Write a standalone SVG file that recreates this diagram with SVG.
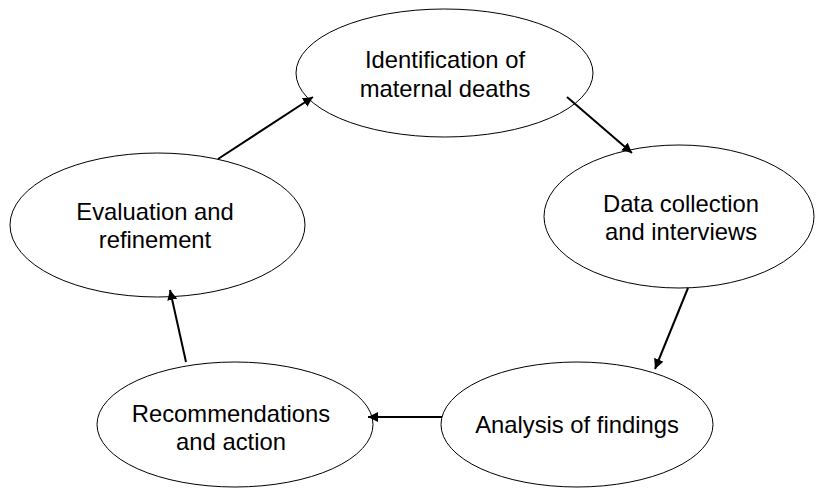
<svg xmlns="http://www.w3.org/2000/svg" width="816" height="489" viewBox="0 0 816 489">
<defs>
<style>
.node ellipse{fill:#fff;stroke:#000;stroke-width:1}
.node text{font-family:"Liberation Sans",Arial,sans-serif;font-size:23.8px;fill:#000;text-anchor:middle}
.conn line{stroke:#000;stroke-width:2;fill:none}
</style>
<marker id="ah" viewBox="0 0 10 10" refX="10" refY="5" markerWidth="5" markerHeight="5" orient="auto" markerUnits="strokeWidth">
<path d="M0,0 L10,5 L0,10 z" fill="#000"/>
</marker>
</defs>
<rect width="816" height="489" fill="#fff"/>
<g id="n-identification" class="node">
<ellipse cx="444.5" cy="73" rx="148.5" ry="64"/>
<text x="445" y="68">Identification of</text>
<text x="445" y="97">maternal deaths</text>
</g>
<g id="n-data" class="node">
<ellipse cx="679" cy="216.5" rx="135" ry="71.5"/>
<text x="681" y="212">Data collection</text>
<text x="681" y="240">and interviews</text>
</g>
<g id="n-analysis" class="node">
<ellipse cx="577" cy="424.5" rx="136" ry="62.5"/>
<text x="577" y="433">Analysis of findings</text>
</g>
<g id="n-recommendations" class="node">
<ellipse cx="235" cy="424.5" rx="138" ry="62.5"/>
<text x="231" y="422">Recommendations</text>
<text x="231" y="450">and action</text>
</g>
<g id="n-evaluation" class="node">
<ellipse cx="157.5" cy="225" rx="147.5" ry="72"/>
<text x="155" y="220">Evaluation and</text>
<text x="155" y="248">refinement</text>
</g>
<g id="connectors" class="conn">
<line x1="218" y1="159" x2="313" y2="97" marker-end="url(#ah)"/>
<line x1="567" y1="97" x2="632" y2="153" marker-end="url(#ah)"/>
<line x1="688" y1="288" x2="655" y2="369" marker-end="url(#ah)"/>
<line x1="442" y1="417" x2="368" y2="417" marker-end="url(#ah)"/>
<line x1="186" y1="362" x2="170" y2="290" marker-end="url(#ah)"/>
</g>
</svg>
